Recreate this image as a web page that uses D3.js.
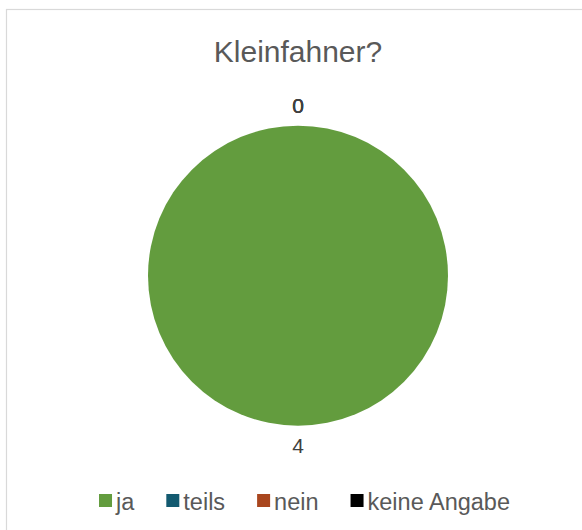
<!DOCTYPE html>
<html>
<head>
<meta charset="utf-8">
<script src="https://cdn.jsdelivr.net/npm/d3@7"></script>
<style>
  body { margin: 0; background: #fff; }
  text { font-family: "Liberation Sans", Arial, sans-serif; }
</style>
</head>
<body>
<div id="vis"></div>
<script>
const width = 582
const height = 530

// answers and counts
const categories = ['ja', 'teils', 'nein', 'keine Angabe']
const counts = [4, 0, 0, 0]
const colors = ['#639c3e', '#135a70', '#a9461e', '#000000']

const svg = d3.select('#vis')
  .append('svg')
  .attr('width', width)
  .attr('height', height)

// chart frame, runs off the right and bottom edge
svg.append('rect')
  .attr('x', 6.5)
  .attr('y', 9.5)
  .attr('width', width + 20)
  .attr('height', height + 20)
  .style('fill', '#fff')
  .style('stroke', '#d9d9d9')
  .style('stroke-width', 1.2)

svg.append('text')
  .attr('x', 298)
  .attr('y', 62)
  .text('Kleinfahner?')
  .style('font-size', '30px')
  .style('fill', '#595959')
  .style('text-anchor', 'middle')

const cx = 298, cy = 275.7, radius = 150

const data = categories.map((c, i) => ({ name: c, value: counts[i], color: colors[i] }))

const pie = d3.pie().sort(null).value(d => d.value)
const arcs = pie(data)
const arc = d3.arc().innerRadius(0).outerRadius(radius)
const labelArc = d3.arc().innerRadius(radius + 20).outerRadius(radius + 20)

const g = svg.append('g').attr('transform', `translate(${cx},${cy})`)

g.selectAll('path')
  .data(arcs)
  .enter()
  .append('path')
  .attr('d', arc)
  .style('fill', d => d.data.color)

g.selectAll('text.lbl')
  .data(arcs)
  .enter()
  .append('text')
  .attr('class', 'lbl')
  .attr('transform', d => `translate(${labelArc.centroid(d)})`)
  .attr('dy', 7.5)
  .text(d => d.data.value)
  .style('font-size', '21px')
  .style('fill', '#404040')
  .style('text-anchor', 'middle')

// legend, laid out from measured text widths and then centred
const legend = svg.append('g')
const items = legend.selectAll('g')
  .data(data)
  .enter()
  .append('g')

items.append('rect')
  .attr('width', 13)
  .attr('height', 13)
  .attr('y', -16)
  .style('fill', d => d.color)

items.append('text')
  .attr('x', 17)
  .attr('y', 0)
  .text(d => d.name)
  .style('font-size', '23.5px')
  .style('fill', '#595959')

let xPos = 0
items.each(function () {
  d3.select(this).attr('transform', `translate(${xPos},0)`)
  const w = d3.select(this).select('text').node().getComputedTextLength()
  xPos += 17 + w + 32
})
const total = xPos - 32
legend.attr('transform', `translate(${304.5 - total / 2},510)`)
</script>
</body>
</html>
